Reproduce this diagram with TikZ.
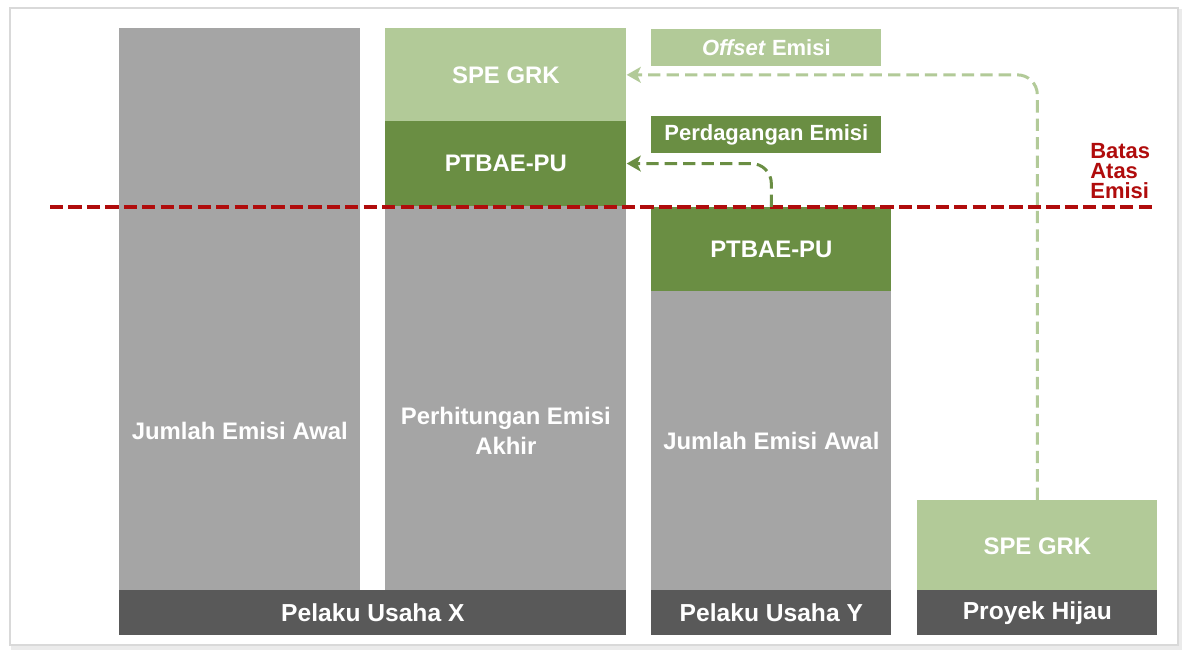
\documentclass[tikz,border=0pt]{standalone}
\usepackage{fontspec}
\setmainfont{Liberation Sans}
\usetikzlibrary{positioning,arrows.meta}
\definecolor{abu}{HTML}{A5A5A5}
\definecolor{abugelap}{HTML}{595959}
\definecolor{hijautua}{HTML}{6A8E43}
\definecolor{hijaumuda}{HTML}{B2CA98}
\definecolor{merah}{HTML}{B00C0C}

\tikzset{
  blok/.style={rectangle, inner sep=0pt, anchor=north west},
  teks/.style={text=white, font=\bfseries\fontsize{13.6}{17}\selectfont, align=center},
  kecil/.style={font=\bfseries\fontsize{12.5}{15}\selectfont},
  kaki/.style={blok, fill=abugelap, minimum height=0.9cm, teks, font=\bfseries\fontsize{14}{17}\selectfont},
  panah/.style={line width=1.7pt, dash pattern=on 7pt off 3.5pt, rounded corners=0.4cm,
    -{Stealth[length=8pt,width=9pt,inset=2pt]}},
}

\begin{document}
\begin{tikzpicture}
  \useasboundingbox (0,0) rectangle (23.8,-13.06);
  % bingkai
  \draw[black!8, line width=2pt] (0.26,-0.22) rectangle (23.60,-12.96);
  \draw[black!15, line width=0.6pt, fill=white] (0.2,-0.16) rectangle (23.56,-12.90);

  % Pelaku Usaha X
  \node[blok, fill=abu, minimum width=4.82cm, minimum height=11.24cm] (awalX) at (2.38,-0.56) {};
  \node[blok, fill=hijaumuda, minimum width=4.82cm, minimum height=1.86cm, teks] (speX) at (7.70,-0.56) {SPE GRK};
  \node[blok, fill=hijautua, minimum width=4.82cm, minimum height=1.70cm, teks, below=-0.02cm of speX] (ptbaeX) {PTBAE-PU};
  \node[blok, fill=abu, minimum width=4.82cm, minimum height=7.70cm, below=-0.02cm of ptbaeX] (akhirX) {};
  \node[kaki, minimum width=10.14cm] (usahaX) at (2.38,-11.80) {Pelaku Usaha X};
  \node[teks] (tawalX) at ([yshift=3.2cm]awalX.south) {Jumlah Emisi Awal};
  \node[teks] (takhirX) at ([yshift=3.2cm]akhirX.south) {Perhitungan Emisi\\Akhir};

  % Pelaku Usaha Y
  \node[blok, fill=hijautua, minimum width=4.80cm, minimum height=1.68cm, teks] (ptbaeY) at (13.02,-4.14) {PTBAE-PU};
  \node[blok, fill=abu, minimum width=4.80cm, minimum height=6.00cm, below=-0.02cm of ptbaeY] (awalY) {};
  \node[kaki, minimum width=4.80cm] (usahaY) at (13.02,-11.80) {Pelaku Usaha Y};
  \node[teks] (tawalY) at ([yshift=3.0cm]awalY.south) {Jumlah Emisi Awal};

  % Proyek Hijau
  \node[blok, fill=hijaumuda, minimum width=4.80cm, minimum height=1.82cm, teks] (speH) at (18.34,-10.00) {SPE GRK};
  \node[kaki, minimum width=4.80cm] (proyek) at (18.34,-11.80) {Proyek Hijau};

  % keterangan
  \node[blok, fill=hijaumuda, minimum width=4.60cm, minimum height=0.74cm, teks, kecil] (offset) at (13.02,-0.58) {\textit{Offset} Emisi};
  \node[blok, fill=hijautua, minimum width=4.60cm, minimum height=0.74cm, teks, kecil] (dagang) at (13.02,-2.32) {Perdagangan Emisi};

  % batas atas
  \coordinate (bkiri) at (1.0,-4.14);
  \coordinate (bkanan) at (23.14,-4.14);
  \draw[merah, line width=2.3pt, dash pattern=on 7.5pt off 3pt] (bkiri) -- (bkanan);
  \node[anchor=south west, inner sep=0pt, text=merah, align=left,
    font=\bfseries\fontsize{12.5}{11.5}\selectfont] (batas) at (21.80,-3.98) {Batas\\Atas\\Emisi};

  % panah
  \draw[panah, hijaumuda] (speH.north) |- (speX.east);
  \draw[panah, hijautua] (ptbaeY.north) |- (ptbaeX.east);
\end{tikzpicture}
\end{document}
